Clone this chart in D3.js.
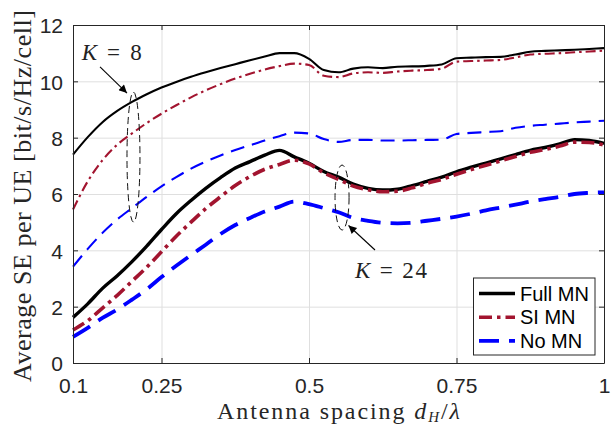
<!DOCTYPE html>
<html><head><meta charset="utf-8">
<script src="https://cdn.jsdelivr.net/npm/d3@7/dist/d3.min.js"></script>
<style>body{margin:0;background:#fff}svg{display:block}</style>
</head><body><svg id="chart" width="611" height="425"></svg>
<script>
// ---------- data ----------
const spacing = [0.1,0.125,0.15,0.175,0.2,0.225,0.25,0.275,0.3,0.325,0.35,0.375,0.4,0.425,0.45,0.475,0.5,0.525,0.55,0.575,0.6,0.625,0.65,0.675,0.7,0.725,0.75,0.775,0.8,0.825,0.85,0.875,0.9,0.925,0.95,0.975,1.0];
const fullK8 = [7.4,8.02,8.55,8.95,9.27,9.54,9.78,9.98,10.16,10.32,10.47,10.61,10.75,10.88,11.0,11.0,10.8,10.4,10.32,10.45,10.5,10.47,10.52,10.53,10.55,10.6,10.82,10.84,10.86,10.87,10.95,11.05,11.08,11.1,11.12,11.15,11.18];
const siK8 = [5.45,6.45,7.2,7.75,8.15,8.52,8.85,9.15,9.43,9.68,9.9,10.1,10.27,10.42,10.54,10.63,10.58,10.2,10.15,10.28,10.32,10.3,10.35,10.38,10.4,10.45,10.7,10.72,10.74,10.76,10.85,10.95,10.98,11.0,11.03,11.06,11.09];
const noK8 = [3.42,4.05,4.62,5.1,5.5,5.9,6.27,6.6,6.9,7.15,7.37,7.56,7.73,7.9,8.05,8.18,8.15,7.95,7.85,7.92,7.92,7.9,7.9,7.91,7.92,7.93,8.13,8.17,8.2,8.23,8.35,8.42,8.46,8.5,8.54,8.57,8.6];
const fullK24 = [1.62,2.1,2.65,3.1,3.6,4.15,4.74,5.3,5.77,6.2,6.58,6.92,7.15,7.38,7.55,7.32,7.09,6.8,6.6,6.35,6.2,6.14,6.17,6.3,6.45,6.6,6.79,6.95,7.1,7.25,7.4,7.55,7.65,7.78,7.93,7.9,7.8];
const siK24 = [1.17,1.5,1.95,2.4,2.9,3.4,3.95,4.5,5.0,5.48,5.9,6.3,6.62,6.88,7.05,7.2,7.07,6.75,6.52,6.28,6.15,6.08,6.1,6.22,6.38,6.52,6.7,6.87,7.02,7.18,7.33,7.48,7.58,7.7,7.84,7.83,7.74];
const noK24 = [0.93,1.25,1.6,1.9,2.25,2.62,3.05,3.45,3.83,4.2,4.58,4.9,5.15,5.38,5.55,5.73,5.64,5.5,5.35,5.15,5.05,4.98,4.96,4.98,5.05,5.12,5.2,5.3,5.42,5.52,5.62,5.73,5.82,5.9,6.0,6.04,6.06];
const xTicks = [0.1,0.25,0.5,0.75,1];
const xTickLabels = ["0.1","0.25","0.5","0.75","1"];
const yTicks = [0,2,4,6,8,10,12];
const legendLabels = ["Full MN","SI MN","No MN"];
const xTitle = "Antenna spacing";
const yTitle = "Average SE per UE [bit/s/Hz/cell]";

// ---------- styles ----------
const RED = "#a2142f", BLUE = "#0000ff", BLACK = "#000000", AX = "#262626";
const series = [
  {v: fullK8, color: BLACK, w: 2.1, dash: null},
  {v: siK8, color: RED, w: 2.1, dash: "10,4,2.5,4"},
  {v: noK8, color: BLUE, w: 2.1, dash: "14,8"},
  {v: fullK24, color: BLACK, w: 3.4, dash: null},
  {v: siK24, color: RED, w: 3.6, dash: "13,5,3.5,5"},
  {v: noK24, color: BLUE, w: 3.8, dash: "20,10"}
];

const svg = d3.select("#chart");
const L = 73, R = 604, T = 25, B = 363;
const x = d3.scaleLinear().domain([0.1, 1]).range([L, R]);
const y = d3.scaleLinear().domain([0, 12]).range([B, T]);

// grid
svg.append("g").attr("transform", `translate(0,${B})`)
  .call(d3.axisBottom(x).tickValues(xTicks).tickSize(-(B - T)).tickFormat(""))
  .call(g => { g.select(".domain").remove(); g.selectAll("line").attr("stroke", "#dfdfdf").attr("stroke-width", 1); });
svg.append("g").attr("transform", `translate(${L},0)`)
  .call(d3.axisLeft(y).tickValues(yTicks).tickSize(-(R - L)).tickFormat(""))
  .call(g => { g.select(".domain").remove(); g.selectAll("line").attr("stroke", "#dfdfdf").attr("stroke-width", 1); });

// curves
const line = d3.line().x((d, i) => x(spacing[i])).y(d => y(d)).curve(d3.curveMonotoneX);
series.forEach(s => {
  svg.append("path").datum(s.v)
    .attr("d", line)
    .attr("fill", "none")
    .attr("stroke", s.color)
    .attr("stroke-width", s.w)
    .attr("stroke-linejoin", "round")
    .attr("stroke-dasharray", s.dash);
});

// axes
function styleAxis(g) {
  g.select(".domain").attr("stroke", AX).attr("stroke-width", 1);
  g.selectAll(".tick line").attr("stroke", AX);
  g.selectAll("text").attr("fill", AX).attr("font-family", "Liberation Sans, Arial, sans-serif").attr("font-size", 21);
}
svg.append("g").attr("transform", `translate(0,${B})`)
  .call(d3.axisBottom(x).tickValues(xTicks).tickFormat((d, i) => xTickLabels[i]).tickSizeInner(-5).tickSizeOuter(0).tickPadding(15))
  .call(styleAxis);
svg.append("g").attr("transform", `translate(0,${T})`)
  .call(d3.axisTop(x).tickValues(xTicks).tickFormat("").tickSizeInner(-5).tickSizeOuter(0))
  .call(styleAxis);
svg.append("g").attr("transform", `translate(${L},0)`)
  .call(d3.axisLeft(y).tickValues(yTicks).tickSizeInner(-5).tickSizeOuter(0).tickPadding(10))
  .call(styleAxis)
  .call(g => g.selectAll("text").attr("dy", "0.38em"));
svg.append("g").attr("transform", `translate(${R},0)`)
  .call(d3.axisRight(y).tickValues(yTicks).tickFormat("").tickSizeInner(-5).tickSizeOuter(0))
  .call(styleAxis);

// axis titles
const serif = "Liberation Serif, Times New Roman, serif";
const xt = svg.append("text").attr("x", 217).attr("y", 419)
  .attr("font-family", serif).attr("font-size", 24).attr("fill", AX)
  .attr("textLength", 243).attr("lengthAdjust", "spacing");
xt.append("tspan").text(xTitle + " ");
xt.append("tspan").attr("font-style", "italic").text("d");
xt.append("tspan").attr("font-style", "italic").attr("font-size", 15).attr("dy", 2.5).text("H");
xt.append("tspan").attr("dy", -2.5).text("/");
xt.append("tspan").attr("font-style", "italic").text("λ");

svg.append("text").attr("transform", `translate(31,196) rotate(-90)`)
  .attr("text-anchor", "middle").attr("font-family", serif).attr("font-size", 26).attr("fill", AX)
  .attr("textLength", 372).attr("lengthAdjust", "spacing")
  .text(yTitle);

// annotations (data units)
const annEllipses = [
  {cx: 0.2025, cy: 7.31, rx: 0.011, ry: 2.31},
  {cx: 0.556, cy: 5.875, rx: 0.0119, ry: 1.154}
];
const annArrows = [
  {x1: 0.1458, y1: 10.51, x2: 0.1915, y2: 9.585},
  {x1: 0.6119, y1: 4.011, x2: 0.567, y2: 4.881}
];
const annLabels = [
  {x: 0.1147, y: 10.756, k: "8", len: 60},
  {x: 0.578, y: 3.017, k: "24", len: 72}
];
const pxPerX = (R - L) / 0.9, pxPerY = (B - T) / 12;
annEllipses.forEach(e => {
  svg.append("ellipse").attr("cx", x(e.cx)).attr("cy", y(e.cy))
    .attr("rx", e.rx * pxPerX).attr("ry", e.ry * pxPerY)
    .attr("fill", "none").attr("stroke", "#111").attr("stroke-width", 1)
    .attr("stroke-dasharray", "7,4");
});
svg.append("defs").append("marker").attr("id", "ah").attr("viewBox", "0 0 10 10")
  .attr("refX", 10).attr("refY", 5).attr("markerWidth", 10).attr("markerHeight", 8)
  .attr("markerUnits", "userSpaceOnUse").attr("orient", "auto")
  .append("path").attr("d", "M0,0 L10,5 L0,10 Z").attr("fill", "#000");
annArrows.forEach(a => {
  svg.append("line").attr("x1", x(a.x1)).attr("y1", y(a.y1)).attr("x2", x(a.x2)).attr("y2", y(a.y2))
    .attr("stroke", "#000").attr("stroke-width", 1.1).attr("marker-end", "url(#ah)");
});
annLabels.forEach(l => {
  const t = svg.append("text").attr("x", x(l.x)).attr("y", y(l.y))
    .attr("font-family", serif).attr("font-size", 23).attr("fill", "#222")
    .attr("textLength", l.len).attr("lengthAdjust", "spacing");
  t.append("tspan").attr("font-style", "italic").text("K");
  t.append("tspan").text(" = " + l.k);
});

// legend
const lg = svg.append("g");
lg.append("rect").attr("x", 473.5).attr("y", 278).attr("width", 121.5).attr("height", 77)
  .attr("fill", "#fff").attr("stroke", AX).attr("stroke-width", 1);
const legendStyles = [series[3], series[4], series[5]];
legendLabels.forEach((lab, i) => {
  const cy = 293.5 + i * 23.7;
  const s = legendStyles[i];
  lg.append("line").attr("x1", 479).attr("x2", 515).attr("y1", cy).attr("y2", cy)
    .attr("stroke", s.color).attr("stroke-width", s.w).attr("stroke-dasharray", s.dash);
  lg.append("text").attr("x", 520).attr("y", cy).attr("dy", "0.36em")
    .attr("font-family", "Liberation Sans, Arial, sans-serif").attr("font-size", 20).attr("fill", "#000")
    .text(lab);
});
</script></body></html>
